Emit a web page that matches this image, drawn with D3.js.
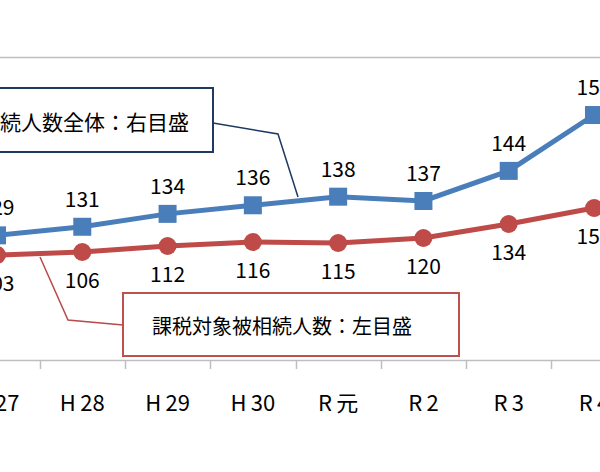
<!DOCTYPE html>
<html><head><meta charset="utf-8">
<script src="https://cdn.jsdelivr.net/npm/d3@7"></script>
<style>body{margin:0;background:#fff}</style></head>
<body><script>
var categories = ["H27", "H28", "H29", "H30", "R元", "R2", "R3", "R4"],
    totalHeirs = [129, 131, 134, 136, 138, 137, 144, 157],
    taxedHeirs = [103, 106, 112, 116, 115, 120, 134, 150],
    xLabels = ["H27", "H28", "H29", "H30", "R元", "R2", "R3", "R4"];

var w = 600, h = 472, font = "'Noto Sans CJK JP','DejaVu Sans',sans-serif";
var svg = d3.select("body").append("svg").attr("width", w).attr("height", h);

var x = d3.scaleLinear().domain([0, categories.length - 1]).range([-3, 594]);
var yBlue = d3.scaleLinear().domain([100, 170.5]).range([360, 57]);
var yRed = d3.scaleLinear().domain([0, 300]).range([358, 58]);

// gridline and axis
svg.append("line").attr("x1", 0).attr("x2", w).attr("y1", 57.5).attr("y2", 57.5)
    .attr("stroke", "#bfbfbf").attr("stroke-width", 1.5);
svg.append("line").attr("x1", 0).attr("x2", w).attr("y1", 360.5).attr("y2", 360.5)
    .attr("stroke", "#bfbfbf").attr("stroke-width", 1.5);
d3.range(categories.length - 1).forEach(function(i) {
    var tx = Math.round(x(i + 0.5)) + 0.5;
    svg.append("line").attr("x1", tx).attr("x2", tx).attr("y1", 360).attr("y2", 369)
        .attr("stroke", "#bfbfbf").attr("stroke-width", 1.5);
});
svg.selectAll(".xl").data(xLabels).enter().append("text")
    .attr("x", function(d, i) { return x(i); }).attr("y", 411)
    .attr("text-anchor", "middle").attr("font-family", font).attr("font-size", 22)
    .text(function(d) { return d.charAt(0) + "\u2009" + d.slice(1); });

// leaders and callouts
svg.append("polyline").attr("points", "213,123 278,134 298,197")
    .attr("fill", "none").attr("stroke", "#1f3864").attr("stroke-width", 1.5);
svg.append("rect").attr("x", -10).attr("y", 88).attr("width", 223).attr("height", 64)
    .attr("fill", "#fff").attr("stroke", "#1f3864").attr("stroke-width", 2);
svg.append("text").attr("x", 189).attr("y", 130).attr("text-anchor", "end")
    .attr("font-family", font).attr("font-size", 21).text("相続人数全体：右目盛");

svg.append("polyline").attr("points", "123,325 68,320 40,257")
    .attr("fill", "none").attr("stroke", "#b94a48").attr("stroke-width", 1.5);
svg.append("rect").attr("x", 123).attr("y", 293).attr("width", 336).attr("height", 63)
    .attr("fill", "#fff").attr("stroke", "#c0504d").attr("stroke-width", 2);
svg.append("text").attr("x", 152).attr("y", 334)
    .attr("font-family", font).attr("font-size", 20).text("課税対象被相続人数：左目盛");

// blue series
svg.append("path").datum(totalHeirs)
    .attr("d", d3.line().x(function(d, i) { return x(i); }).y(function(d) { return yBlue(d); }))
    .attr("fill", "none").attr("stroke", "#4a7ebb").attr("stroke-width", 5);
svg.selectAll(".sq").data(totalHeirs).enter().append("rect")
    .attr("x", function(d, i) { return x(i) - 9; }).attr("y", function(d) { return yBlue(d) - 9; })
    .attr("width", 18).attr("height", 18).attr("fill", "#4a7ebb");
svg.selectAll(".bl").data(totalHeirs).enter().append("text")
    .attr("x", function(d, i) { return x(i); }).attr("y", function(d) { return yBlue(d) - 20; })
    .attr("text-anchor", "middle").attr("font-family", font).attr("font-size", 21)
    .text(function(d) { return d; });

// red series
svg.append("path").datum(taxedHeirs)
    .attr("d", d3.line().x(function(d, i) { return x(i); }).y(function(d) { return yRed(d); }))
    .attr("fill", "none").attr("stroke", "#be4b48").attr("stroke-width", 5);
svg.selectAll(".ci").data(taxedHeirs).enter().append("circle")
    .attr("cx", function(d, i) { return x(i); }).attr("cy", function(d) { return yRed(d); })
    .attr("r", 9).attr("fill", "#be4b48");
svg.selectAll(".rl").data(taxedHeirs).enter().append("text")
    .attr("x", function(d, i) { return x(i); }).attr("y", function(d) { return yRed(d) + 36; })
    .attr("text-anchor", "middle").attr("font-family", font).attr("font-size", 21)
    .text(function(d) { return d; });
</script></body></html>
